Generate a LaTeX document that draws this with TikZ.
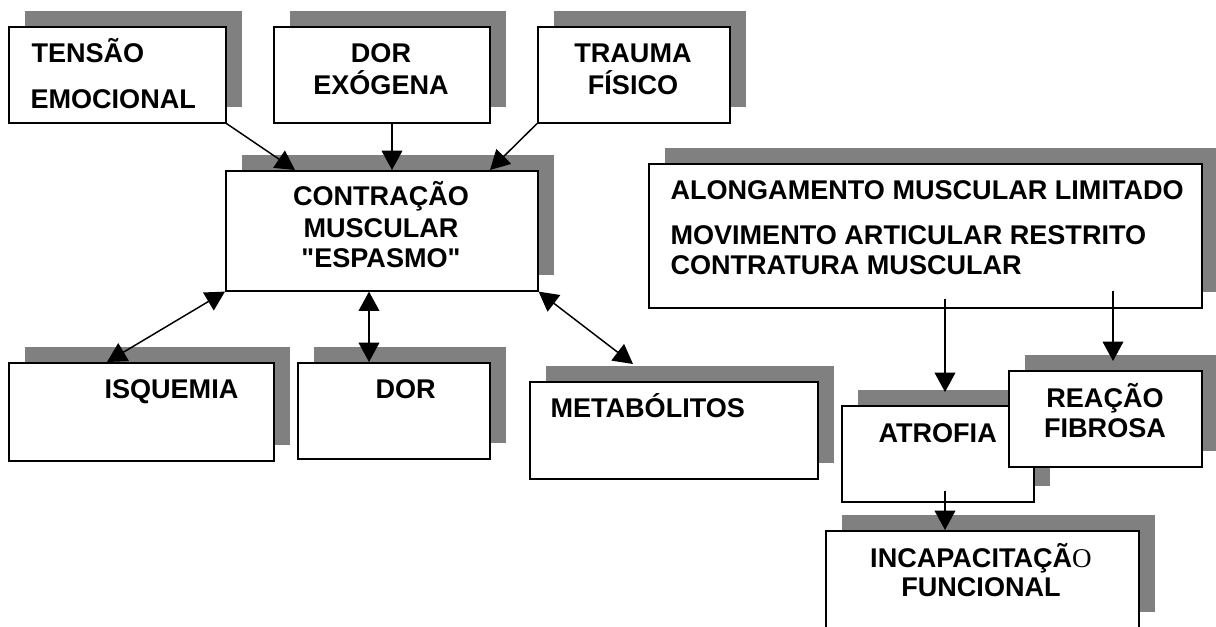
\documentclass[tikz,border=0pt]{standalone}
\usepackage{fontspec}
\setmainfont{Liberation Sans}
\newfontfamily\serifont{Liberation Serif}
\usetikzlibrary{arrows.meta,shadows,calc}
\definecolor{shadowgray}{RGB}{128,128,128}
\newcommand{\boxfont}{\fontsize{20.3}{24}\selectfont\bfseries}

\tikzset{every picture/.style={line width=0.75pt}}
\tikzset{
  box/.style={draw, line width=1.2pt, fill=white, anchor=north west, inner sep=0pt,
    general shadow={fill=shadowgray, shadow xshift=12pt, shadow yshift=12pt}},
  boxsize/.style 2 args={minimum width=#1*0.75pt, minimum height=#2*0.75pt},
  lbl/.style={anchor=base west, inner sep=0pt, font=\boxfont},
  lblc/.style={anchor=base, inner sep=0pt, font=\boxfont},
  arr/.style={line width=1.1pt, -{Triangle[length=14.5pt,width=15.5pt]}},
  darr/.style={line width=1.1pt, {Triangle[length=14.5pt,width=15.5pt]}-{Triangle[length=14.5pt,width=15.5pt]}}
}

\begin{document}
\begin{tikzpicture}[x=0.75pt,y=0.75pt,yscale=-1,xscale=1]
\useasboundingbox (0,0) rectangle (1216,626);

%Shape: Rectangle [tensao]
\node[box, boxsize={217}{96}] (tensao) at (8,26) {};
% Text Node
\node[lbl] (tensao-a) at (31,62) {TENSÃO};
\node[lbl] (tensao-b) at (30,108) {EMOCIONAL};

%Shape: Rectangle [dorexo]
\node[box, boxsize={216}{96}] (dorexo) at (273,26) {};
% Text Node
\node[lblc] (dorexo-a) at (381,62) {DOR};
\node[lblc] (dorexo-b) at (381,94) {EXÓGENA};

%Shape: Rectangle [trauma]
\node[box, boxsize={192}{96}] (trauma) at (537,26) {};
% Text Node
\node[lblc] (trauma-a) at (633,62) {TRAUMA};
\node[lblc] (trauma-b) at (633,94) {FÍSICO};

%Shape: Rectangle [contracao]
\node[box, boxsize={312}{120}] (contracao) at (225,170) {};
% Text Node
\node[lblc] (contracao-a) at (381,205) {CONTRAÇÃO};
\node[lblc] (contracao-b) at (381,237) {MUSCULAR};
\node[lblc] (contracao-c) at (381,267) {\textquotedbl ESPASMO\textquotedbl};

%Shape: Rectangle [alonga]
\node[box, boxsize={553}{144}] (alonga) at (648,163) {};
% Text Node
\node[lbl] (alonga-a) at (670,199) {ALONGAMENTO MUSCULAR LIMITADO};
\node[lbl] (alonga-b) at (670,244) {MOVIMENTO ARTICULAR RESTRITO};
\node[lbl] (alonga-c) at (670,274) {CONTRATURA MUSCULAR};

%Shape: Rectangle [isquemia]
\node[box, boxsize={265}{98}] (isquemia) at (8,362) {};
% Text Node
\node[lbl] (isquemia-a) at (104,398) {ISQUEMIA};

%Shape: Rectangle [dor]
\node[box, boxsize={192}{96}] (dor) at (297,362) {};
% Text Node
\node[lbl] (dor-a) at (375,398) {DOR};

%Shape: Rectangle [metab]
\node[box, boxsize={288}{97}] (metab) at (529,381) {};
% Text Node
\node[lbl] (metab-a) at (550,417) {METABÓLITOS};

%Shape: Rectangle [atrofia]
\node[box, boxsize={192}{96}] (atrofia) at (841,405) {};
% Text Node
\node[lbl] (atrofia-a) at (878,442) {ATROFIA};

%Shape: Rectangle [reacao]
\node[box, boxsize={193}{96}] (reacao) at (1008,370) {};
% Text Node
\node[lblc] (reacao-a) at (1105,407) {REAÇÃO};
\node[lblc] (reacao-b) at (1105,437) {FIBROSA};

%Shape: Rectangle [incap]
\node[box, boxsize={313}{97}] (incap) at (825,530) {};
% Text Node
\node[lblc] (incap-a) at (981,567) {INCAPACITAÇÃ{\mdseries\serifont O}};
\node[lblc] (incap-b) at (981,596) {FUNCIONAL};

%Straight Lines: causes
\draw[arr] (tensao.south east) -- ($(contracao.north west)+(70,0)$);
\draw[arr] ($(dorexo.south west)+(119,0)$) -- ($(contracao.north west)+(167,0)$);
\draw[arr] (trauma.south west) -- ($(contracao.north west)+(265,0)$);
%Straight Lines: effects
\draw[darr] (contracao.south west) -- ($(isquemia.north west)+(99,0)$);
\draw[darr] ($(contracao.south west)+(144,0)$) -- ($(dor.north west)+(72,0)$);
\draw[darr] (contracao.south east) -- ($(metab.north west)+(104,-17)$);
%Straight Lines: right branch
\draw[arr] ($(alonga.south west)+(297,-10)$) -- ($(atrofia.north west)+(104,-13)$);
\draw[arr] ($(alonga.south west)+(465,-18)$) -- ($(reacao.north west)+(105,-9)$);
\draw[arr] ($(atrofia.south west)+(104,-12)$) -- ($(incap.north west)+(120,0)$);

\end{tikzpicture}
\end{document}
